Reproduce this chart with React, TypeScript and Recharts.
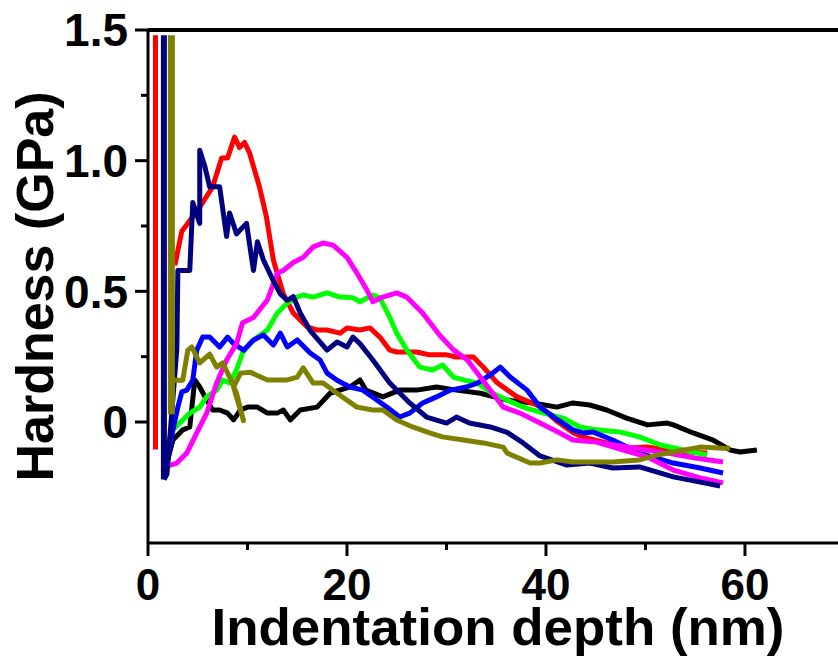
import React from 'react';
import { LineChart, Line, XAxis, YAxis, ReferenceLine } from 'recharts';

const xTicks = [0, 10, 20, 30, 40, 50, 60];
const xTickLabels = ['0', '', '20', '', '40', '', '60'];
const yTicks = [0, 0.25, 0.5, 0.75, 1, 1.25, 1.5];
const yTickLabels = ['0', '', '0.5', '', '1.0', '', '1.5'];
const xTitle = 'Indentation depth (nm)';
const yTitle = 'Hardness (GPa)';

// initial load spikes (clipped at the top of the frame)
const redSpike = [[0.75, 1.48], [0.75, -0.105]];
const navySpike = [[1.6, 1.48], [1.6, -0.22]];
const oliveSpike = [[2.35, 1.48], [2.35, 0.03]];

const blackPts = [[1.7,-0.19],[1.9,-0.157],[2.5,-0.069],[3.5,-0.03],[4.2,-0.019],[4.7,0.161],[5.2,0.134],[5.9,0.084],[6.5,0.046],[7.2,0.046],[8.0,0.034],[8.6,0.008],[9.3,0.046],[10.0,0.057],[11.0,0.057],[12.0,0.034],[13.0,0.034],[13.6,0.046],[14.3,0.008],[15.3,0.046],[17.0,0.057],[18.3,0.11],[20.3,0.134],[21.3,0.161],[21.9,0.122],[23.6,0.096],[25.3,0.122],[27.0,0.122],[29.0,0.134],[31.0,0.122],[33.4,0.11],[36.1,0.084],[38.7,0.073],[41.1,0.057],[42.7,0.073],[44.4,0.065],[46.1,0.046],[48.1,0.015],[50.2,-0.011],[52.2,-0.004],[52.8,-0.011],[54.8,-0.042],[56.8,-0.069],[58.5,-0.107],[59.5,-0.115],[61.2,-0.107]];

const redPts = [[2.7,0.6],[3.4,0.73],[4.5,0.785],[5.5,0.84],[6.5,0.9],[7.4,1.01],[8.0,1.01],[8.7,1.09],[9.2,1.05],[9.7,1.07],[10.2,1.03],[11.2,0.9],[11.9,0.785],[12.6,0.62],[13.6,0.49],[14.6,0.417],[16.0,0.364],[17.0,0.352],[18.0,0.352],[19.3,0.34],[20.0,0.36],[21.3,0.352],[22.3,0.36],[23.3,0.325],[24.3,0.275],[25.0,0.268],[27.0,0.268],[28.3,0.257],[30.0,0.257],[31.0,0.249],[32.7,0.249],[33.7,0.21],[35.1,0.15],[37.1,0.096],[39.4,0.06],[41.2,0.0],[42.7,-0.04],[43.7,-0.057],[46.1,-0.08],[48.1,-0.1],[50.2,-0.096],[52.2,-0.107],[54.2,-0.115],[56.2,-0.119]];

const greenPts = [[1.5,-0.134],[2.5,-0.03],[3.5,0.008],[4.2,0.034],[5.2,0.057],[5.9,0.096],[6.9,0.122],[7.5,0.161],[8.2,0.149],[8.9,0.199],[9.5,0.264],[10.3,0.302],[11.0,0.325],[12.0,0.352],[13.0,0.417],[14.0,0.455],[15.0,0.478],[15.6,0.486],[16.6,0.478],[18.0,0.494],[19.3,0.478],[20.6,0.475],[21.3,0.46],[22.6,0.486],[23.3,0.475],[24.3,0.4],[25.0,0.34],[26.0,0.276],[27.3,0.21],[28.6,0.199],[29.6,0.218],[30.7,0.172],[31.7,0.161],[33.1,0.149],[34.4,0.115],[36.1,0.084],[37.7,0.057],[39.4,0.038],[41.7,0.015],[43.4,-0.019],[45.1,-0.03],[47.4,-0.038],[49.4,-0.057],[51.5,-0.088],[53.8,-0.107],[56.2,-0.126]];

const bluePts = [[1.5,-0.19],[2.0,-0.145],[2.5,-0.03],[3.0,0.057],[3.4,0.115],[3.9,0.122],[4.5,0.16],[4.9,0.275],[5.5,0.325],[6.2,0.325],[7.2,0.287],[8.0,0.325],[8.6,0.3],[9.6,0.275],[10.6,0.314],[11.6,0.333],[12.6,0.295],[13.3,0.34],[14.0,0.287],[15.0,0.314],[16.3,0.264],[17.3,0.237],[18.0,0.187],[19.0,0.16],[20.3,0.134],[21.6,0.122],[23.0,0.084],[24.0,0.057],[25.3,0.019],[26.3,0.034],[27.6,0.073],[29.0,0.096],[30.4,0.122],[32.0,0.134],[33.1,0.149],[34.4,0.18],[35.4,0.21],[36.4,0.172],[38.1,0.122],[39.4,0.057],[41.2,0.008],[42.7,-0.03],[43.7,-0.042],[44.7,-0.038],[46.7,-0.069],[49.4,-0.119],[52.8,-0.157],[55.5,-0.176],[57.8,-0.195]];

const magentaPts = [[1.7,-0.172],[2.9,-0.157],[3.9,-0.119],[4.9,-0.042],[5.9,0.034],[6.9,0.149],[7.9,0.237],[8.9,0.3],[9.5,0.38],[10.6,0.4],[12.0,0.467],[13.0,0.57],[13.6,0.58],[14.6,0.61],[15.6,0.63],[16.6,0.67],[17.6,0.685],[18.6,0.677],[20.0,0.63],[21.0,0.57],[22.0,0.505],[22.6,0.46],[23.6,0.478],[25.0,0.494],[26.0,0.478],[27.6,0.417],[29.3,0.333],[30.7,0.276],[32.1,0.237],[33.4,0.172],[34.4,0.122],[35.7,0.057],[37.4,0.034],[39.4,-0.004],[41.4,-0.042],[42.7,-0.069],[45.1,-0.077],[47.7,-0.107],[50.2,-0.134],[52.8,-0.184],[55.5,-0.214],[57.8,-0.233]];

const pinkPts = [[45.1,-0.077],[48.0,-0.095],[52.2,-0.119],[55.0,-0.138],[57.8,-0.153]];

const navyPts = [[1.6,-0.22],[1.9,-0.2],[2.9,0.28],[3.0,0.58],[4.2,0.58],[4.5,0.84],[5.2,0.76],[5.2,1.04],[5.7,0.98],[6.2,0.9],[7.2,0.9],[7.9,0.71],[8.2,0.8],[8.9,0.72],[9.9,0.76],[10.6,0.58],[11.0,0.69],[11.6,0.62],[12.6,0.54],[13.3,0.49],[14.0,0.465],[14.6,0.48],[15.3,0.417],[16.3,0.35],[18.0,0.275],[19.0,0.306],[20.0,0.287],[20.6,0.325],[21.3,0.3],[22.6,0.237],[24.3,0.149],[26.3,0.073],[28.0,0.019],[30.0,-0.004],[31.0,0.019],[32.3,-0.004],[34.4,-0.019],[36.1,-0.04],[37.7,-0.08],[39.4,-0.13],[42.1,-0.165],[44.4,-0.157],[46.7,-0.176],[49.4,-0.172],[52.8,-0.21],[55.5,-0.23],[57.5,-0.245]];

const olivePts = [[2.35,0.03],[2.5,0.16],[3.5,0.16],[4.0,0.275],[4.4,0.287],[5.2,0.226],[6.2,0.26],[6.9,0.21],[7.5,0.226],[8.2,0.172],[8.9,0.11],[9.6,0.005],[8.6,0.134],[9.3,0.187],[10.3,0.19],[12.0,0.161],[14.0,0.161],[15.0,0.172],[15.6,0.207],[16.6,0.149],[17.6,0.149],[19.0,0.11],[21.0,0.057],[22.6,0.046],[23.6,0.046],[25.0,0.008],[26.6,-0.019],[28.3,-0.042],[29.6,-0.057],[31.7,-0.069],[33.7,-0.08],[35.7,-0.096],[36.1,-0.119],[38.4,-0.157],[39.4,-0.157],[41.1,-0.145],[42.7,-0.153],[44.4,-0.153],[46.7,-0.153],[49.4,-0.145],[51.2,-0.126],[52.8,-0.115],[55.5,-0.096],[57.8,-0.1],[58.5,-0.1]];

const series = [
  { name: 'redSpike', color: '#ff0000', pts: redSpike, w: 5 },
  { name: 'black', color: '#000000', pts: blackPts, w: 5 },
  { name: 'red', color: '#ff0000', pts: redPts, w: 5 },
  { name: 'green', color: '#00ff00', pts: greenPts, w: 5 },
  { name: 'blue', color: '#0000ff', pts: bluePts, w: 5 },
  { name: 'pink', color: '#ff00ff', pts: pinkPts, w: 5 },
  { name: 'magenta', color: '#ff00ff', pts: magentaPts, w: 5 },
  { name: 'navySpike', color: '#000080', pts: navySpike, w: 6 },
  { name: 'navy', color: '#000080', pts: navyPts, w: 5 },
  { name: 'oliveSpike', color: '#808000', pts: oliveSpike, w: 7 },
  { name: 'olive', color: '#808000', pts: olivePts, w: 5 },
];

const FONT = '"Liberation Sans", Arial, Helvetica, sans-serif';

const toData = (pts: number[][]) => pts.map(([x, y]) => ({ x, y }));

const XTick = (props: any) => {
  const { x, y, payload } = props;
  const i = xTicks.indexOf(payload.value);
  const label = i >= 0 ? xTickLabels[i] : '';
  const major = label !== '';
  return (
    <g>
      <line x1={x} x2={x} y1={y} y2={y + (major ? 13 : 7)} stroke="#000" strokeWidth={3} />
      {major && (
        <text x={x} y={y + 57} textAnchor="middle" fontSize={44} fontWeight="bold" fontFamily={FONT} fill="#000">
          {label}
        </text>
      )}
    </g>
  );
};

const YTick = (props: any) => {
  const { x, y, payload } = props;
  const i = yTicks.indexOf(payload.value);
  const label = i >= 0 ? yTickLabels[i] : '';
  const major = label !== '';
  return (
    <g>
      <line x1={x - (major ? 13 : 7)} x2={x} y1={y} y2={y} stroke="#000" strokeWidth={3} />
      {major && (
        <text x={x - 20} y={y} dy="0.355em" textAnchor="end" fontSize={46} fontWeight="bold" fontFamily={FONT} fill="#000">
          {label}
        </text>
      )}
    </g>
  );
};

const XTitle = (props: any) => {
  const vb = props.viewBox || { x: 148, y: 543, width: 690, height: 115 };
  return (
    <text x={vb.x + vb.width / 2 + 5} y={vb.y + 102} textAnchor="middle" fontSize={52} fontWeight="bold" fontFamily={FONT} fill="#000" textLength={573} lengthAdjust="spacingAndGlyphs">
      {xTitle}
    </text>
  );
};

const YTitle = (props: any) => {
  const vb = props.viewBox || { x: 0, y: 30, width: 148, height: 513 };
  const cx = vb.x + 53;
  const cy = vb.y + vb.height / 2;
  return (
    <text x={cx} y={cy} transform={`rotate(-90 ${cx} ${cy})`} textAnchor="middle" fontSize={52} fontWeight="bold" fontFamily={FONT} fill="#000">
      {yTitle}
    </text>
  );
};

export default function App() {
  return (
    <div style={{ position: 'absolute', left: 0, top: 0, width: 838, height: 658, background: '#fff', overflow: 'hidden' }}>
      <LineChart width={838} height={658} margin={{ top: 30, right: 0, bottom: 0, left: 0 }}>
        <XAxis
          dataKey="x"
          type="number"
          domain={[0, 69.35]}
          ticks={xTicks}
          interval={0}
          allowDataOverflow
          height={115}
          tickSize={0}
          tickMargin={0}
          tickLine={false}
          tick={<XTick />}
          axisLine={{ stroke: '#000', strokeWidth: 3 }}
          label={<XTitle />}
        />
        <YAxis
          dataKey="y"
          type="number"
          domain={[-0.463, 1.5]}
          ticks={yTicks}
          interval={0}
          allowDataOverflow
          width={148}
          tickSize={0}
          tickMargin={0}
          tickLine={false}
          tick={<YTick />}
          axisLine={{ stroke: '#000', strokeWidth: 3 }}
          label={<YTitle />}
        />
        <ReferenceLine y={1.5} stroke="#000" strokeWidth={4} />
        {series.map((s) => (
          <Line
            key={s.name}
            data={toData(s.pts)}
            dataKey="y"
            type="linear"
            stroke={s.color}
            strokeWidth={s.w}
            strokeLinejoin="round"
            dot={false}
            activeDot={false}
            isAnimationActive={false}
          />
        ))}
      </LineChart>
    </div>
  );
}
